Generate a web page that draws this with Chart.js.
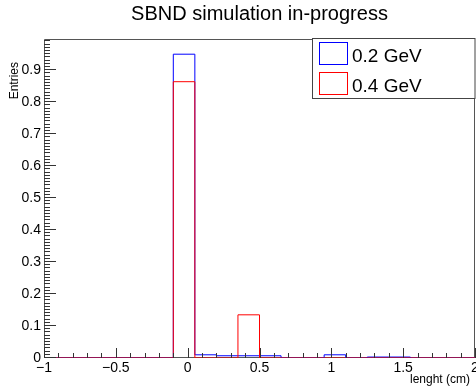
<!DOCTYPE html>
<html>
<head>
<meta charset="utf-8">
<script src="https://cdn.jsdelivr.net/npm/chart.js@4.4.1/dist/chart.umd.min.js"></script>
<style>
  html, body { margin: 0; padding: 0; background: #fff; }
  #wrap { width: 476px; height: 391px; }
</style>
</head>
<body>
<div id="wrap"><canvas id="chart"></canvas></div>
<script>
// histogram bins (cm) and normalised entries per bin
const binEdges = [-1, -0.85, -0.7, -0.55, -0.4, -0.25, -0.1, 0.05, 0.2, 0.35, 0.5,
                  0.65, 0.8, 0.95, 1.1, 1.25, 1.4, 1.55, 1.7, 1.85, 2];
const entries02 = [0, 0, 0, 0, 0, 0, 0.95, 0.01, 0.007, 0.007,
                   0.007, 0, 0, 0.01, 0, 0.003, 0.003, 0, 0, 0];
const entries04 = [0, 0, 0, 0, 0, 0, 0.864, 0, 0, 0.135,
                   0, 0, 0, 0, 0, 0, 0, 0, 0, 0];
const seriesLabels = ['0.2 GeV', '0.4 GeV'];
const seriesColors = ['#0000ff', '#ff0000'];

const xTicks = [-1, -0.5, 0, 0.5, 1, 1.5, 2];
const xTickLabels = ['\u22121', '\u22120.5', '0', '0.5', '1', '1.5', '2'];
const yTicks = [0, 0.1, 0.2, 0.3, 0.4, 0.5, 0.6, 0.7, 0.8, 0.9];
const yTickLabels = ['0', '0.1', '0.2', '0.3', '0.4', '0.5', '0.6', '0.7', '0.8', '0.9'];
const yMax = 0.9975;

const titleText = 'SBND simulation in-progress';
const xTitle = 'lenght (cm)';
const yTitle = 'Entries';
const FONT = '"Liberation Sans", Arial, Helvetica, sans-serif';

// step outline: one point per left bin edge, plus the last edge
function steps(values) {
    const pts = values.map((v, i) => ({ x: binEdges[i], y: v }));
    pts.push({ x: binEdges[binEdges.length - 1], y: values[values.length - 1] });
    return pts;
}

// ROOT-like frame, inward ticks, axis titles and legend
const rootStyle = {
    id: 'rootStyle',
    beforeDatasetsDraw(chart) {
        const { ctx, chartArea: a } = chart;
        ctx.save();
        ctx.strokeStyle = '#555';
        ctx.lineWidth = 1;
        ctx.beginPath();
        ctx.moveTo(a.left + 0.5, a.bottom);
        ctx.lineTo(a.left + 0.5, a.top + 0.5);
        ctx.lineTo(a.right - 0.5, a.top + 0.5);
        ctx.lineTo(a.right - 0.5, a.bottom);
        ctx.moveTo(a.left, a.bottom - 0.5);
        ctx.lineTo(a.right, a.bottom - 0.5);
        ctx.stroke();
        ctx.restore();
    },
    afterDatasetsDraw(chart) {
        const { ctx, chartArea: a, scales: { x, y } } = chart;
        ctx.save();
        ctx.strokeStyle = '#333';
        ctx.lineWidth = 1;
        ctx.beginPath();
        // y ticks: major every 0.1, minor every 0.01
        for (let k = 0; k <= 99; k++) {
            const py = Math.round(y.getPixelForValue(k / 100)) - 0.5;
            const len = k % 10 === 0 ? 12 : 6;
            ctx.moveTo(a.left, py);
            ctx.lineTo(a.left + len, py);
        }
        // x ticks: major every 0.5, minor every 0.1
        for (let k = -10; k <= 20; k++) {
            const px = Math.round(x.getPixelForValue(k / 10)) + 0.5;
            const len = k % 5 === 0 ? 10 : 5;
            ctx.moveTo(px, a.bottom);
            ctx.lineTo(px, a.bottom - len);
        }
        ctx.stroke();

        // axis titles
        ctx.fillStyle = '#000';
        ctx.font = '12px ' + FONT;
        ctx.textAlign = 'right';
        ctx.textBaseline = 'alphabetic';
        ctx.fillText(xTitle, 470, 383);
        ctx.save();
        ctx.translate(17.5, 62);
        ctx.rotate(-Math.PI / 2);
        ctx.fillText(yTitle, 0, 0);
        ctx.restore();

        // legend
        ctx.fillStyle = '#fff';
        ctx.fillRect(313, 39, 163, 60);
        ctx.strokeStyle = '#444';
        ctx.strokeRect(312.5, 38.5, 162.5, 60);
        ctx.font = '19px ' + FONT;
        ctx.textAlign = 'left';
        seriesLabels.forEach((lab, i) => {
            const top = 42.5 + i * 30;
            ctx.strokeStyle = seriesColors[i];
            ctx.strokeRect(319.5, top, 28, 22);
            ctx.fillStyle = '#000';
            ctx.fillText(lab, 352, 62 + i * 30);
        });
        ctx.restore();
    }
};

new Chart(document.getElementById('chart'), {
    type: 'line',
    data: {
        datasets: [
            { label: seriesLabels[0], data: steps(entries02), borderColor: seriesColors[0],
              borderWidth: 1, stepped: 'before', pointRadius: 0, fill: false, order: 1 },
            { label: seriesLabels[1], data: steps(entries04), borderColor: seriesColors[1],
              borderWidth: 1, stepped: 'before', pointRadius: 0, fill: false, order: 0 }
        ]
    },
    options: {
        responsive: true,
        maintainAspectRatio: false,
        animation: false,
        layout: { padding: { left: 0, right: 1, top: 0, bottom: 0 } },
        plugins: {
            legend: { display: false },
            tooltip: { enabled: false },
            title: {
                display: true,
                text: titleText,
                fullSize: false,
                color: '#000',
                font: { family: FONT, size: 20, weight: 'normal', lineHeight: 1.2 },
                padding: { top: 2, bottom: 13 }
            }
        },
        scales: {
            x: {
                type: 'linear',
                min: -1,
                max: 2,
                grid: { display: false, drawTicks: false },
                border: { display: false },
                ticks: {
                    color: '#000',
                    font: { family: FONT, size: 14 },
                    padding: 2,
                    maxRotation: 0,
                    autoSkip: false,
                    callback: (v, i) => xTickLabels[i]
                },
                afterBuildTicks: s => { s.ticks = xTicks.map(v => ({ value: v })); },
                afterFit: s => { s.height = 33; s.paddingLeft = 0; s.paddingRight = 0; }
            },
            y: {
                type: 'linear',
                min: 0,
                max: yMax,
                grid: { display: false, drawTicks: false },
                border: { display: false },
                ticks: {
                    color: '#000',
                    font: { family: FONT, size: 14 },
                    padding: 3,
                    autoSkip: false,
                    callback: (v, i) => yTickLabels[i]
                },
                afterBuildTicks: s => { s.ticks = yTicks.map(v => ({ value: v })); },
                afterFit: s => { s.width = 44; s.paddingTop = 0; s.paddingBottom = 0; }
            }
        }
    },
    plugins: [rootStyle]
});
</script>
</body>
</html>
